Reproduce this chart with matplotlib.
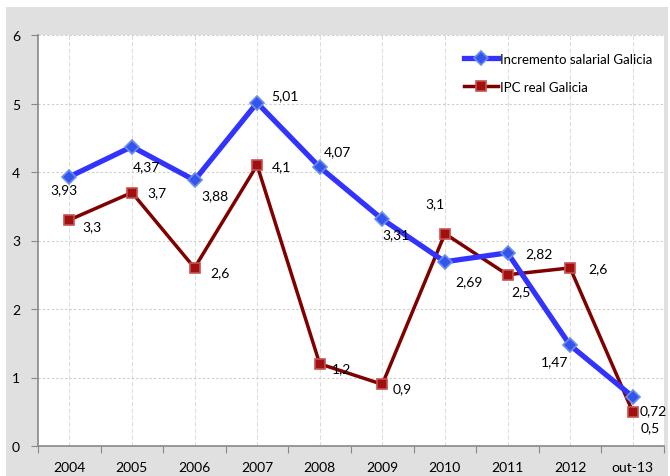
import matplotlib

matplotlib.use("Agg")
import matplotlib.pyplot as plt
from matplotlib.patches import Rectangle

plt.rcParams["font.family"] = ["Lato", "DejaVu Sans"]

categories = ["2004", "2005", "2006", "2007", "2008", "2009", "2010", "2011", "2012", "out-13"]
salario = [3.93, 4.37, 3.88, 5.01, 4.07, 3.31, 2.69, 2.82, 1.47, 0.72]
ipc = [3.3, 3.7, 2.6, 4.1, 1.2, 0.9, 3.1, 2.5, 2.6, 0.5]

# label offsets in pixels (dx, dy), screen y up
off_salario = [(-5, -12), (15, -20), (20, -15), (28, 8), (18, 16), (14, -15), (24, -19), (31, 0), (-16, -16), (21, -13)]
off_ipc = [(23, -6), (25, 0), (25, -4), (24, -1), (22, -4), (20, -4), (-10, 30), (13, -16), (28, 0), (18, -15)]

W, H = 670, 477
fig = plt.figure(figsize=(W / 100, H / 100), dpi=100)
fig.patch.set_facecolor("white")
fig.patches.append(Rectangle((6 / W, 0), 662 / W, 1 - 8 / H, transform=fig.transFigure,
                             facecolor="#e0e0e0", edgecolor="none", zorder=-10))

ax = fig.add_axes([38 / W, (H - 447) / H, (664 - 38) / W, (447 - 36) / H])
ax.set_facecolor("white")

x = [i + 0.5 for i in range(len(categories))]
ax.plot(x, salario, color="#3333ff", lw=3.8, marker="D", ms=7, mfc="#3355ee",
        mec="#6a8fe8", mew=1.2, label="Incremento salarial Galicia", zorder=4)
ax.plot(x, ipc, color="#800000", lw=2.5, marker="s", ms=7, mfc="#a01010",
        mec="#c85050", mew=1.2, label="IPC real Galicia", zorder=3)

def fmt(v):
    return str(v).replace(".", ",")

for xi, v, (dx, dy) in zip(x, salario, off_salario):
    ax.annotate(fmt(v), (xi, v), xytext=(dx * 0.72, dy * 0.72), textcoords="offset points",
                ha="center", va="center", fontsize=10, zorder=5)
for xi, v, (dx, dy) in zip(x, ipc, off_ipc):
    ax.annotate(fmt(v), (xi, v), xytext=(dx * 0.72, dy * 0.72), textcoords="offset points",
                ha="center", va="center", fontsize=10, zorder=5)

ax.set_xlim(0, len(categories))
ax.set_ylim(0, 6)
ax.set_yticks(range(7))
ax.set_xticks(range(len(categories) + 1))
ax.set_xticklabels([])
ax.set_xticks(x, minor=True)
ax.set_xticklabels(categories, minor=True)
ax.tick_params(axis="x", which="minor", length=0, pad=11, labelsize=10)
ax.tick_params(axis="x", which="major", length=5, color="#888888", direction="out")
ax.tick_params(axis="y", length=5, color="#888888", labelsize=10, pad=8)
ax.yaxis.grid(True, color="#cccccc", ls=(0, (2, 2)), lw=0.8)
ax.xaxis.grid(True, which="minor", color="#dddddd", ls=(0, (4, 2)), lw=0.8)
ax.set_axisbelow(True)
for s in ["top", "right"]:
    ax.spines[s].set_visible(False)
for s in ["left", "bottom"]:
    ax.spines[s].set_color("#888888")
    ax.spines[s].set_linewidth(1.2)

ax.legend(loc="upper right", bbox_to_anchor=(1.0, 0.985), frameon=False, fontsize=9.5,
          handlelength=2.6, handletextpad=0.1, labelspacing=1.2)

fig.savefig("out.png", dpi=100)
